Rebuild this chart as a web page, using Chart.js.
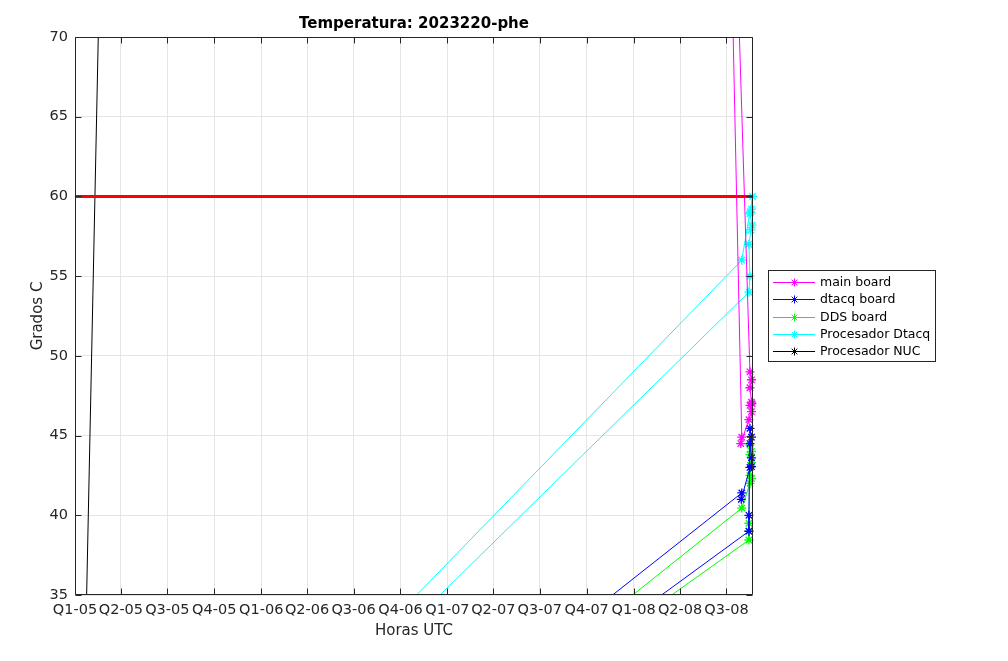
<!DOCTYPE html>
<html lang="es">
<head>
    <meta charset="UTF-8">
    <title>Temperatura: 2023220-phe</title>
    <style>
        body { margin: 0; background: #fff; }
        #chartBox { width: 1008px; height: 661px; }
    </style>
</head>
<body>
    <div id="chartBox">
        <canvas id="tempChart" width="1008" height="661"></canvas>
    </div>
<script src="https://cdn.jsdelivr.net/npm/chart.js"></script>
<script>
    // x values are days counted from 01-Jan-2005
    const tickDays = [0, 90, 181, 273, 365, 455, 546, 638, 730, 820, 911, 1003, 1095, 1186, 1277];
    const tickLabels = ['Q1-05', 'Q2-05', 'Q3-05', 'Q4-05', 'Q1-06', 'Q2-06', 'Q3-06', 'Q4-06',
                        'Q1-07', 'Q2-07', 'Q3-07', 'Q4-07', 'Q1-08', 'Q2-08', 'Q3-08'];
    const xMin = 0, xMax = 1329;
    const yMin = 35, yMax = 70, yStep = 5;

    const mainX = [1270, 1307, 1305, 1321, 1326, 1323, 1327, 1326, 1323, 1326, 1323, 1273];
    const mainY = [100, 44.9, 44.5, 46.0, 46.5, 46.9, 47.0, 47.1, 48.0, 48.5, 49.0, 100];

    const dtacqX = [856, 1307, 1306, 1323, 1326, 1326, 1323, 1326, 1323, 1321, 1321, 936];
    const dtacqY = [30, 41.4, 41.0, 43.0, 43.05, 43.6, 44.5, 44.9, 45.45, 40.0, 39.0, 30];

    const ddsX = [897, 1307, 1323, 1326, 1323, 1326, 1323, 1326, 1323, 1321, 1321, 1321, 950];
    const ddsY = [30, 40.45, 42.0, 42.3, 42.5, 43.3, 43.8, 44.0, 44.4, 39.5, 39.0, 38.45, 30];

    const procDtacqX = [518, 1307, 1328, 1326, 1324, 1323, 1327, 1325, 1321, 1323, 1321, 556];
    const procDtacqY = [30, 56.0, 60.0, 59.2, 59.0, 58.9, 58.2, 57.9, 57.0, 55.0, 54.0, 30];

    const nucX = [0, 60];
    const nucY = [0, 92.1];

    const limitX = [xMin, xMax];
    const limitY = [60, 60];

    const toPoints = (xs, ys) => xs.map((v, i) => ({ x: v, y: ys[i] }));

    function series(label, xs, ys, color) {
        return {
            label: label,
            data: toPoints(xs, ys),
            borderColor: color,
            backgroundColor: color,
            borderWidth: 1,
            pointStyle: 'star',
            pointRadius: 4.5,
            pointBorderWidth: 1.3,
            pointBorderColor: color,
            tension: 0,
            fill: false,
            clip: { left: 0, top: 0, right: 6, bottom: 0 }
        };
    }

    // axes box, inward ticks, titles and legend drawn like the MATLAB figure
    const frame = {
        id: 'frame',
        afterDraw(chart) {
            const { ctx, chartArea: a, scales: { x, y } } = chart;
            const L = Math.round(a.left) + 0.5, R = Math.round(a.right) - 0.5;
            const T = Math.round(a.top) + 0.5, B = Math.round(a.bottom) - 0.5;
            ctx.save();
            ctx.strokeStyle = '#262626';
            ctx.lineWidth = 1;
            ctx.beginPath();
            ctx.rect(L, T, R - L, B - T);
            tickDays.forEach(v => {
                const px = Math.round(x.getPixelForValue(v)) + 0.5;
                ctx.moveTo(px, B); ctx.lineTo(px, B - 6);
                ctx.moveTo(px, T); ctx.lineTo(px, T + 6);
            });
            y.ticks.forEach(t => {
                const py = Math.round(y.getPixelForValue(t.value)) + 0.5;
                ctx.moveTo(L, py); ctx.lineTo(L + 6, py);
                ctx.moveTo(R, py); ctx.lineTo(R - 6, py);
            });
            ctx.stroke();

            const midX = (a.left + a.right) / 2;
            ctx.fillStyle = '#000';
            ctx.textAlign = 'center';
            ctx.textBaseline = 'middle';
            ctx.font = 'bold 15px "DejaVu Sans"';
            ctx.fillText('Temperatura: 2023220-phe', midX, 24);
            ctx.fillStyle = '#262626';
            ctx.font = '15px "DejaVu Sans"';
            ctx.fillText('Horas UTC', midX, 631);
            ctx.save();
            ctx.translate(38, (a.top + a.bottom) / 2);
            ctx.rotate(-Math.PI / 2);
            ctx.fillText('Grados C', 0, 0);
            ctx.restore();

            // legend
            const items = chart.data.datasets.filter(d => d.label);
            const bx = 768, by = 270, bw = 167, bh = 91;
            ctx.fillStyle = '#fff';
            ctx.fillRect(bx, by, bw, bh);
            ctx.strokeStyle = '#262626';
            ctx.strokeRect(bx + 0.5, by + 0.5, bw, bh);
            ctx.font = '12.5px "DejaVu Sans"';
            ctx.textAlign = 'left';
            items.forEach((d, i) => {
                const ry = Math.round(by + 12 + i * 17.25) + 0.5;
                const cx = 794.5, r = 4, q = r * 0.7071;
                ctx.strokeStyle = d.borderColor;
                ctx.beginPath();
                ctx.moveTo(773, ry); ctx.lineTo(815, ry);
                ctx.moveTo(cx, ry - r); ctx.lineTo(cx, ry + r);
                ctx.moveTo(cx - q, ry - q); ctx.lineTo(cx + q, ry + q);
                ctx.moveTo(cx - q, ry + q); ctx.lineTo(cx + q, ry - q);
                ctx.stroke();
                ctx.fillStyle = '#000';
                ctx.fillText(d.label, 820, ry);
            });
            ctx.restore();
        }
    };

    Chart.defaults.font.family = '"DejaVu Sans", sans-serif';
    Chart.defaults.color = '#262626';

    const ctx = document.getElementById('tempChart').getContext('2d');
    const tempChart = new Chart(ctx, {
        type: 'line',
        data: {
            datasets: [
                {
                    data: toPoints(limitX, limitY),
                    borderColor: '#ff0000',
                    borderWidth: 3,
                    pointRadius: 0,
                    fill: false,
                    clip: 0
                },
                series('main board', mainX, mainY, '#ff00ff'),
                series('dtacq board', dtacqX, dtacqY, '#0000ff'),
                series('DDS board', ddsX, ddsY, '#00ff00'),
                series('Procesador Dtacq', procDtacqX, procDtacqY, '#00ffff'),
                series('Procesador NUC', nucX, nucY, '#000000')
            ]
        },
        options: {
            responsive: false,
            animation: false,
            layout: { padding: { left: 0, top: 37, right: 255, bottom: 0 } },
            plugins: {
                legend: { display: false },
                title: { display: false },
                tooltip: { enabled: false }
            },
            scales: {
                x: {
                    type: 'linear',
                    min: xMin,
                    max: xMax,
                    afterBuildTicks: scale => { scale.ticks = tickDays.map(v => ({ value: v })); },
                    afterFit: scale => { scale.height = 66; },
                    ticks: {
                        autoSkip: false,
                        maxRotation: 0,
                        padding: 7,
                        font: { size: 14.5 },
                        color: '#262626',
                        callback: value => tickLabels[tickDays.indexOf(value)]
                    },
                    grid: { color: '#e5e5e5', drawTicks: false },
                    border: { display: false }
                },
                y: {
                    min: yMin,
                    max: yMax,
                    afterFit: scale => { scale.width = 75; },
                    ticks: {
                        stepSize: yStep,
                        padding: 7,
                        font: { size: 14.5 },
                        color: '#262626'
                    },
                    grid: { color: '#e5e5e5', drawTicks: false },
                    border: { display: false }
                }
            }
        },
        plugins: [frame]
    });
</script>
</body>
</html>
